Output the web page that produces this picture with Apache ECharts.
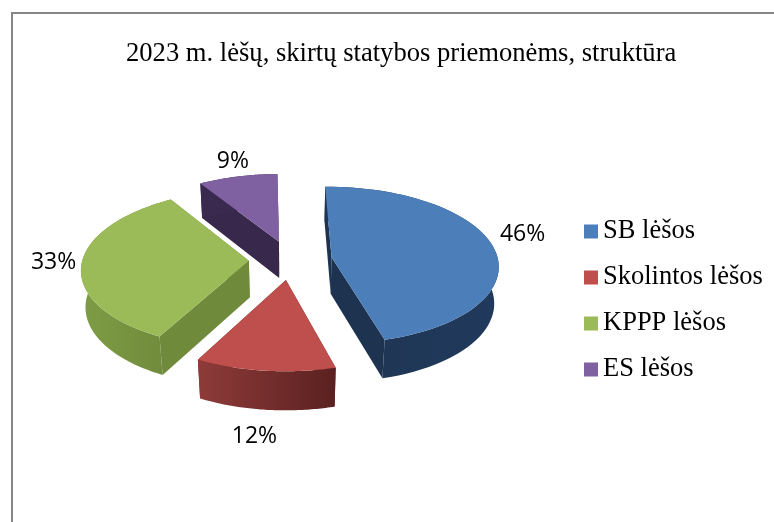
<!DOCTYPE html>
<html><head><meta charset="utf-8">
<style>html,body{margin:0;padding:0;background:#fff}#c{width:774px;height:522px}</style>
<script src="https://cdn.jsdelivr.net/npm/echarts@6/dist/echarts.min.js"></script>
</head><body><div id="c"></div>
<script>
const titleText = '2023 m. lėšų, skirtų statybos priemonėms, struktūra';
const categories = ['SB lėšos', 'Skolintos lėšos', 'KPPP lėšos', 'ES lėšos'];
const shares = [46, 12, 33.4, 8.6];
const topColors = ['#4C7EBA', '#BE4F4C', '#9BBB59', '#7F60A0'];
const wallStops = [['#1F3552','#20395C'], ['#8E3B39','#5A2120'], ['#7E9C45','#6F8A3B'], ['#3A2A4F','#3A2A4F']];
const cutColors = ['#1D3350', '#6E2A28', '#6F8A3B', '#37284C'];
const labelNudge = [[2,-7],[-8,2],[0,2],[3,0]];
const view = {cx:290.5, cy:260, rx:166.5, ry:78, depth:37.5, persp:0.1, persZ:0.022, explode:0.25, start:-1};
const total = shares.reduce((a,b)=>a+b,0);
const rad = d => d*Math.PI/180;
function proj(X,Y,Z){const w=1+view.persp*Y+view.persZ*Z;return [view.cx+view.rx*X/w, view.cy-view.ry*Y/w+view.depth*Z/w];}
function sliceRange(i){
  let a=view.start; for(let k=0;k<i;k++) a+=shares[k]/total*360;
  return [a,a+shares[i]/total*360];
}
function renderSlice(i){
  const [a0,a1]=sliceRange(i), mid=rad((a0+a1)/2);
  const ox=view.explode*Math.sin(mid), oy=view.explode*Math.cos(mid);
  const pt=(deg,r,z)=>proj(ox+r*Math.sin(rad(deg)),oy+r*Math.cos(rad(deg)),z);
  const topArc=[],botArc=[];
  const steps=60;
  for(let s=0;s<=steps;s++){const d=a0+(a1-a0)*s/steps;topArc.push(pt(d,1,0));botArc.push(pt(d,1,1));}
  const apex=pt(0,0,0),apexB=pt(0,0,1);
  const poly=(points,fill)=>({type:'polygon',shape:{points},style:{fill},silent:true});
  const grad={type:'linear',x:0,y:0,x2:1,y2:0,colorStops:[{offset:0,color:wallStops[i][0]},{offset:1,color:wallStops[i][1]}]};
  const front=Math.cos(mid)<-0.3;
  const lp=front?pt((a0+a1)/2,1,1):pt((a0+a1)/2,1,0);
  return {type:'group',children:[
    poly([apex,apexB,botArc[0],topArc[0]],cutColors[i]),
    poly([apex,apexB,botArc[steps],topArc[steps]],cutColors[i]),
    poly(topArc.concat(botArc.slice().reverse()),grad),
    poly([apex].concat(topArc),topColors[i]),
    {type:'text',x:lp[0]+28*Math.sin(mid)+labelNudge[i][0],y:lp[1]-(front?-28:13)*Math.abs(Math.cos(mid))-3+labelNudge[i][1],
     style:{text:Math.round(shares[i])+'%',fill:'#000',font:'23px "Open Sans"',align:'center',verticalAlign:'middle'},silent:true}
  ]};
}
const chart=echarts.init(document.getElementById('c'),null,{renderer:'canvas'});
chart.setOption({
  animation:false,
  backgroundColor:'#fff',
  title:{text:titleText,left:121,top:36,textStyle:{fontFamily:'Liberation Serif',fontSize:26.6,fontWeight:'normal',color:'#000'}},
  legend:{orient:'vertical',left:584,top:218,padding:0,icon:'rect',itemWidth:14,itemHeight:14,itemGap:19,
    textStyle:{fontFamily:'Liberation Serif',fontSize:26.5,color:'#000'},
    data:categories},
  graphic:[{type:'polyline',silent:true,shape:{points:[[12,522],[12,13],[774,13]]},style:{stroke:'#868686',lineWidth:2,fill:'none'}}],
  series:categories.map((name,i)=>({
    type:'custom',name,coordinateSystem:'none',
    itemStyle:{color:topColors[i]},
    data:[shares[i]],
    renderItem:()=>renderSlice(i)
  }))
});
</script></body></html>
